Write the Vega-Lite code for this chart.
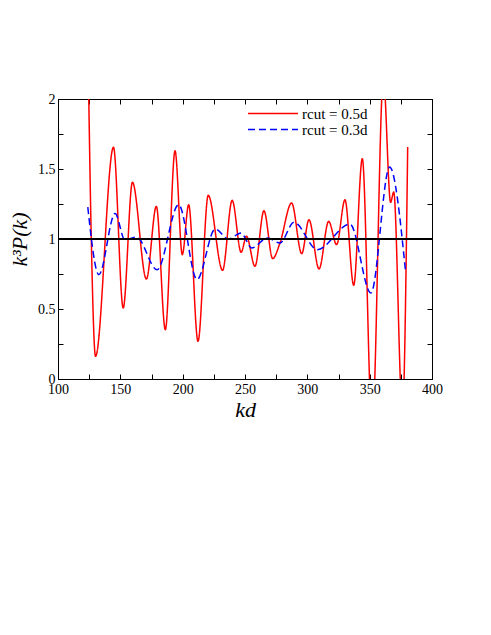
{
  "$schema": "https://vega.github.io/schema/vega-lite/v6.json",
  "width": 374,
  "height": 280,
  "autosize": {"type": "none"},
  "padding": {"left": 58, "top": 99, "right": 59, "bottom": 256},
  "background": "white",
  "config": {
    "view": {"stroke": "black", "strokeWidth": 1},
    "axis": {
      "domainColor": "black",
      "tickColor": "black",
      "tickSize": -5,
      "grid": false,
      "labelFont": "Liberation Serif",
      "labelFontSize": 14,
      "labelColor": "black",
      "labelPadding": 8,
      "labelFlush": false,
      "labelOverlap": false,
      "titleFont": "Liberation Serif",
      "titleFontStyle": "italic",
      "titleFontWeight": "normal",
      "titleFontSize": 22,
      "titleColor": "black"
    }
  },
  "data": {
    "values": [
      {"series": "0.5d", "kd": 124.6, "v": 2.05},
      {"series": "0.5d", "kd": 126.7, "v": 1.0},
      {"series": "0.5d", "kd": 130.1, "v": 0.162},
      {"series": "0.5d", "kd": 144.5, "v": 1.655},
      {"series": "0.5d", "kd": 152.3, "v": 0.507},
      {"series": "0.5d", "kd": 159.7, "v": 1.405},
      {"series": "0.5d", "kd": 170.9, "v": 0.714},
      {"series": "0.5d", "kd": 178.9, "v": 1.233},
      {"series": "0.5d", "kd": 186.1, "v": 0.352},
      {"series": "0.5d", "kd": 193.9, "v": 1.63},
      {"series": "0.5d", "kd": 199.7, "v": 0.888},
      {"series": "0.5d", "kd": 204.8, "v": 1.245},
      {"series": "0.5d", "kd": 212.3, "v": 0.269},
      {"series": "0.5d", "kd": 220.5, "v": 1.312},
      {"series": "0.5d", "kd": 232.0, "v": 0.776},
      {"series": "0.5d", "kd": 239.7, "v": 1.276},
      {"series": "0.5d", "kd": 246.9, "v": 0.905},
      {"series": "0.5d", "kd": 251.2, "v": 1.02},
      {"series": "0.5d", "kd": 258.0, "v": 0.805},
      {"series": "0.5d", "kd": 265.2, "v": 1.202},
      {"series": "0.5d", "kd": 272.2, "v": 0.86},
      {"series": "0.5d", "kd": 278.0, "v": 0.97},
      {"series": "0.5d", "kd": 287.4, "v": 1.257},
      {"series": "0.5d", "kd": 295.5, "v": 0.895},
      {"series": "0.5d", "kd": 301.3, "v": 1.138},
      {"series": "0.5d", "kd": 309.4, "v": 0.786},
      {"series": "0.5d", "kd": 317.1, "v": 1.126},
      {"series": "0.5d", "kd": 323.5, "v": 0.96},
      {"series": "0.5d", "kd": 330.2, "v": 1.28},
      {"series": "0.5d", "kd": 337.2, "v": 0.669},
      {"series": "0.5d", "kd": 344.1, "v": 1.574},
      {"series": "0.5d", "kd": 352.0, "v": -0.35},
      {"series": "0.5d", "kd": 361.0, "v": 2.15},
      {"series": "0.5d", "kd": 366.8, "v": 1.262},
      {"series": "0.5d", "kd": 369.3, "v": 1.336},
      {"series": "0.5d", "kd": 376.3, "v": -0.25},
      {"series": "0.5d", "kd": 380.5, "v": 1.657},
      {"series": "0.3d", "kd": 123.9, "v": 1.228},
      {"series": "0.3d", "kd": 132.8, "v": 0.745},
      {"series": "0.3d", "kd": 145.8, "v": 1.183},
      {"series": "0.3d", "kd": 153.6, "v": 0.995},
      {"series": "0.3d", "kd": 163.0, "v": 1.014},
      {"series": "0.3d", "kd": 179.5, "v": 0.78},
      {"series": "0.3d", "kd": 196.8, "v": 1.245},
      {"series": "0.3d", "kd": 211.5, "v": 0.71},
      {"series": "0.3d", "kd": 226.1, "v": 1.071},
      {"series": "0.3d", "kd": 236.8, "v": 1.0},
      {"series": "0.3d", "kd": 246.9, "v": 1.043},
      {"series": "0.3d", "kd": 255.3, "v": 0.936},
      {"series": "0.3d", "kd": 268.0, "v": 1.007},
      {"series": "0.3d", "kd": 278.0, "v": 0.971},
      {"series": "0.3d", "kd": 289.3, "v": 1.119},
      {"series": "0.3d", "kd": 308.0, "v": 0.924},
      {"series": "0.3d", "kd": 334.2, "v": 1.107},
      {"series": "0.3d", "kd": 351.0, "v": 0.614},
      {"series": "0.3d", "kd": 366.0, "v": 1.514},
      {"series": "0.3d", "kd": 378.9, "v": 0.757}
    ]
  },
  "layer": [
    {
      "mark": {"type": "line", "clip": true, "interpolate": "monotone", "strokeWidth": 1.5},
      "encoding": {
        "x": {
          "field": "kd", "type": "quantitative",
          "scale": {"domain": [100, 400], "nice": false, "zero": false},
          "axis": {
            "orient": "bottom",
            "values": [100, 125, 150, 175, 200, 225, 250, 275, 300, 325, 350, 375, 400],
            "labelExpr": "datum.value % 50 == 0 ? datum.label : ''",
            "title": "kd",
            "titlePadding": 3
          }
        },
        "y": {
          "field": "v", "type": "quantitative",
          "scale": {"domain": [0, 2], "nice": false, "zero": false},
          "axis": {
            "orient": "left",
            "values": [0, 0.25, 0.5, 0.75, 1, 1.25, 1.5, 1.75, 2],
            "labelExpr": "datum.value % 0.5 == 0 ? format(datum.value, '~g') : ''",
            "title": "k³P(k)",
            "titlePadding": 6
          }
        },
        "color": {
          "field": "series", "type": "nominal",
          "scale": {"domain": ["0.5d", "0.3d"], "range": ["#ff0000", "#0000ff"]},
          "legend": {
            "orient": "none", "legendX": 189, "legendY": 7, "title": null,
            "symbolType": "stroke", "symbolSize": 2500, "symbolStrokeWidth": 1.5,
            "labelFont": "Liberation Serif", "labelFontSize": 15, "labelColor": "black",
            "clipHeight": 15, "rowPadding": 0, "padding": 0, "labelOffset": 3,
            "labelExpr": "'rcut = ' + datum.label"
          }
        },
        "strokeDash": {
          "field": "series", "type": "nominal",
          "scale": {"domain": ["0.5d", "0.3d"], "range": [[1, 0], [7, 4]]},
          "legend": {
            "orient": "none", "legendX": 189, "legendY": 7, "title": null,
            "symbolType": "stroke", "symbolSize": 2500, "symbolStrokeWidth": 1.5,
            "labelFont": "Liberation Serif", "labelFontSize": 15, "labelColor": "black",
            "clipHeight": 15, "rowPadding": 0, "padding": 0, "labelOffset": 3,
            "labelExpr": "'rcut = ' + datum.label"
          }
        }
      }
    },
    {
      "mark": {"type": "rule", "color": "black", "strokeWidth": 1},
      "encoding": {
        "x": {
          "datum": 100, "type": "quantitative",
          "axis": {
            "orient": "top", "labels": false, "title": null,
            "values": [100, 125, 150, 175, 200, 225, 250, 275, 300, 325, 350, 375, 400]
          }
        },
        "x2": {"datum": 400},
        "y": {
          "datum": 1, "type": "quantitative",
          "axis": {
            "orient": "right", "labels": false, "title": null,
            "values": [0, 0.25, 0.5, 0.75, 1, 1.25, 1.5, 1.75, 2]
          }
        }
      }
    }
  ],
  "resolve": {"axis": {"x": "independent", "y": "independent"}}
}
